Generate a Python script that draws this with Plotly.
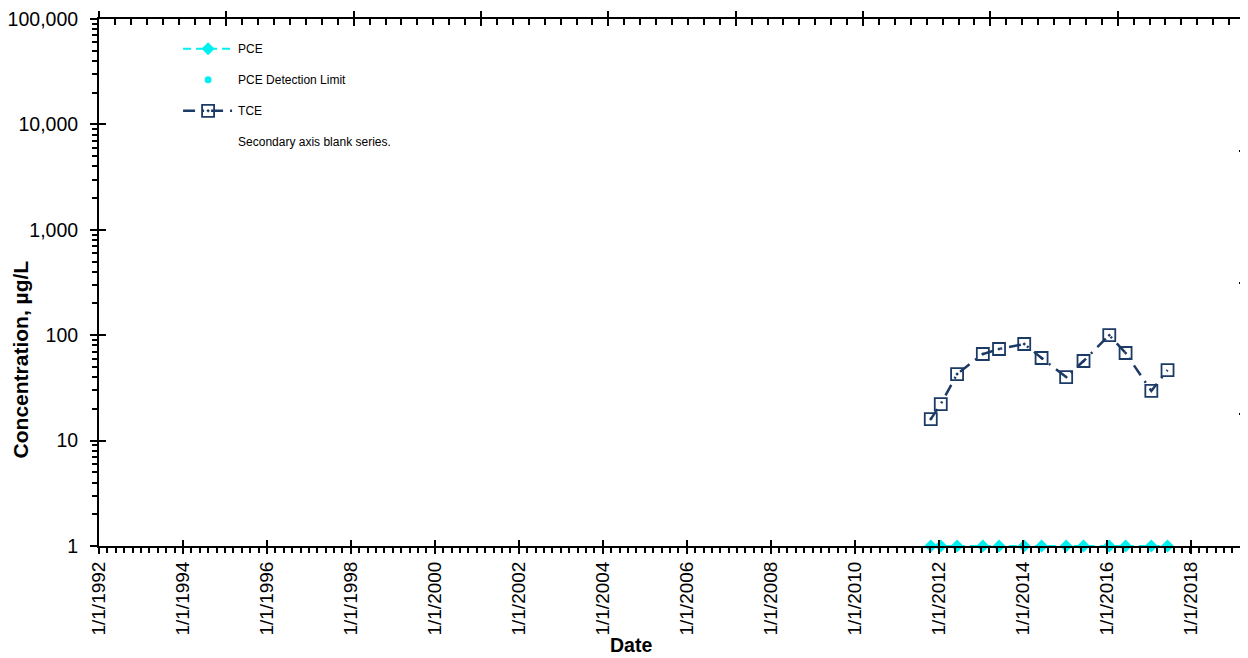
import plotly.graph_objects as go

# ---- data ----
sample_dates = ["2011-10-25", "2012-01-20", "2012-06-10", "2013-01-20", "2013-06-10",
                "2014-01-15", "2014-06-15", "2015-01-15", "2015-06-15", "2016-01-25",
                "2016-06-15", "2017-01-25", "2017-06-15"]
tce_values = [16.0, 22.2, 42.8, 66.3, 74.0, 82.5, 60.8, 40.1, 56.9, 100.0, 67.8, 29.6, 46.7]
pce_values = [1, 1, 1, 1, 1, 1, 1, 1, 1, 1, 1, 1, 1]
pce_detection_limit = [1, 1, 1, 1, 1, 1, 1, 1, 1, 1, 1, 1, 1]
tce_symbols = ["square-open-dot", "square-open", "square-open-dot", "square-open-dot",
               "square-open-dot", "square-open-dot", "square-open-dot", "square-open-dot",
               "square-open-dot", "square-open-dot", "square-open-dot", "square-open",
               "square-open"]

FONT = "Arial, Liberation Sans, sans-serif"
NAVY = "#1c3a66"
CYAN = "#00f0f0"

fig = go.Figure()
fig.add_trace(go.Scatter(
    x=sample_dates, y=pce_values, name="PCE", mode="lines+markers",
    line=dict(color=CYAN, width=2, dash="8px,5px"),
    marker=dict(symbol="diamond", size=10, color=CYAN),
    cliponaxis=False, legendgroup="a"))
fig.add_trace(go.Scatter(
    x=sample_dates, y=pce_detection_limit, name="PCE Detection Limit", mode="markers",
    marker=dict(symbol="circle", size=7, color=CYAN),
    cliponaxis=False, legendgroup="b"))
fig.add_trace(go.Scatter(
    x=sample_dates, y=tce_values, name="TCE", mode="lines+markers",
    line=dict(color=NAVY, width=2.5, dash="12px,7px,2px,7px"),
    marker=dict(symbol=tce_symbols, size=12, color=NAVY, line=dict(width=1.8, color=NAVY)),
    cliponaxis=False, legendgroup="c"))
# secondary axis blank series (invisible)
fig.add_trace(go.Scatter(
    x=[sample_dates[0]], y=[2], name="Secondary axis blank series.", mode="markers",
    marker=dict(color="rgba(0,0,0,0)", size=1), yaxis="y2", legendgroup="d",
    hoverinfo="skip"))

# invisible helpers so the extra tick axes get drawn
hidden = dict(mode="markers", marker=dict(color="rgba(0,0,0,0)", size=1),
              showlegend=False, hoverinfo="skip")
fig.add_trace(go.Scatter(x=[sample_dates[0]], y=[10], xaxis="x3", yaxis="y", **hidden))
fig.add_trace(go.Scatter(x=[0.5], y=[10], xaxis="x2", yaxis="y", **hidden))
fig.add_trace(go.Scatter(x=[0.5], y=[10], xaxis="x4", yaxis="y", **hidden))
fig.add_trace(go.Scatter(x=[sample_dates[0]], y=[10], xaxis="x", yaxis="y3", **hidden))

axis_common = dict(showgrid=False, zeroline=False, showline=True, linecolor="black",
                   linewidth=2, tickcolor="black", tickwidth=2, automargin=False)
MINOR_DT = 73.05 * 86400000

# page body has an 8px margin -> figure is 8px smaller and offsets reduced
fig.update_layout(
    width=1240, height=650,
    margin=dict(l=91, r=3, t=11, b=112),
    plot_bgcolor="white", paper_bgcolor="white",
    font=dict(family=FONT, color="black"),
    showlegend=True,
    legend=dict(x=0.069, y=0.971, xanchor="left", yanchor="top",
                bgcolor="rgba(0,0,0,0)", font=dict(size=12, family=FONT),
                tracegroupgap=12, itemwidth=50),
    xaxis=dict(**axis_common, type="date", range=["1992-01-01", "2019-04-20"],
               tick0="1992-01-01", dtick="M24", tickformat="%-m/%-d/%Y", tickangle=-90,
               ticks="outside", ticklen=6, tickfont=dict(size=19, family=FONT),
               ticklabeloverflow="allow",
               minor=dict(ticks="outside", ticklen=5, tickwidth=2, tickcolor="black",
                          tick0="1992-01-01", dtick=MINOR_DT, showgrid=False)),
    xaxis3=dict(**axis_common, type="date", overlaying="x", matches="x", anchor="y",
                tick0="1992-01-01", dtick="M24", ticks="inside", ticklen=6,
                showticklabels=False),
    xaxis2=dict(**axis_common, overlaying="x", side="top", anchor="y", range=[0, 9],
                dtick=1, ticks="inside", ticklen=7, showticklabels=False,
                minor=dict(ticks="inside", ticklen=6, tickwidth=2, tickcolor="black",
                           dtick=0.125, showgrid=False)),
    xaxis4=dict(**axis_common, overlaying="x", side="top", anchor="y", range=[0, 9],
                dtick=1, ticks="outside", ticklen=6, showticklabels=False),
    yaxis=dict(**axis_common, type="log", range=[0, 5], dtick=1, tickformat=",",
               ticks="outside", ticklen=7, tickfont=dict(size=19.5, family=FONT),
               ticklabelstandoff=8, ticklabeloverflow="allow",
               minor=dict(ticks="outside", ticklen=5, tickwidth=2, tickcolor="black",
                          dtick="D1", showgrid=False)),
    yaxis3=dict(**axis_common, type="log", overlaying="y", matches="y", anchor="x",
                dtick=1, ticks="inside", ticklen=7, showticklabels=False),
    yaxis2=dict(**axis_common, overlaying="y", side="right", anchor="x", range=[0, 4],
                dtick=1, ticks="inside", ticklen=6, showticklabels=False),
    annotations=[
        dict(text="<b>Concentration, µg/L</b>", textangle=-90,
             xref="paper", yref="paper", x=-0.0685, y=0.355,
             xanchor="center", yanchor="middle", showarrow=False,
             font=dict(size=21, family=FONT)),
        dict(text="<b>Date</b>", xref="paper", yref="paper", x=0.4645, y=-0.188,
             xanchor="center", yanchor="middle", showarrow=False,
             font=dict(size=19.5, family=FONT)),
    ],
)

fig.write_html("out.html")
